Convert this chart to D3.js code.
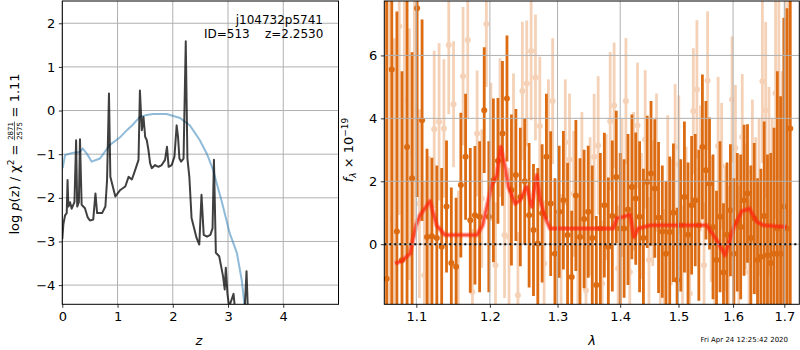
<!DOCTYPE html>
<html>
<head>
<meta charset="utf-8">
<script src="https://cdn.jsdelivr.net/npm/d3@7"></script>
<style>
body { margin: 0; background: #fff; }
text { font-family: "DejaVu Sans", sans-serif; }
</style>
</head>
<body>
<script>
// ---- left panel: p(z) ----
let zBlue = [0.007, 0.05, 0.18, 0.32, 0.37, 0.45, 0.53, 0.68, 0.86, 1.04, 1.17, 1.28, 1.40, 1.53, 1.64, 1.89, 2.13, 2.31, 2.49, 2.62, 2.73, 2.77, 2.89, 3.03, 3.16, 3.25, 3.31];
let pBlue = [-1.32, -1.02, -0.97, -0.95, -0.87, -1.0, -1.17, -1.1, -0.79, -0.62, -0.45, -0.32, -0.15, -0.10, -0.08, -0.08, -0.17, -0.34, -0.68, -1.0, -1.36, -1.55, -2.1, -2.81, -3.26, -3.9, -4.6];

let zDark = [0.0, 0.02, 0.05, 0.08, 0.095, 0.11, 0.14, 0.17, 0.22, 0.25, 0.27, 0.30, 0.32, 0.35, 0.41, 0.46, 0.50, 0.56, 0.60, 0.63, 0.72, 0.78, 0.81, 0.845, 0.87, 0.93, 0.96, 1.05, 1.14, 1.20, 1.26, 1.32, 1.38, 1.405, 1.44, 1.47, 1.50, 1.53, 1.56, 1.59, 1.62, 1.68, 1.74, 1.80, 1.86, 1.895, 1.925, 1.98, 2.03, 2.07, 2.095, 2.12, 2.15, 2.195, 2.235, 2.265, 2.30, 2.34, 2.43, 2.48, 2.52, 2.56, 2.62, 2.68, 2.72, 2.745, 2.78, 2.84, 2.88, 2.91, 2.94, 2.96, 2.99, 3.02, 3.10, 3.13, 3.30, 3.335, 3.36];
let pDark = [-2.95, -2.6, -2.4, -2.35, -1.59, -2.2, -2.1, -2.25, -2.1, -0.68, -2.2, -2.1, -0.66, -2.16, -2.24, -2.45, -2.52, -2.5, -1.9, -2.35, -2.35, -2.2, -1.6, 0.39, -1.52, -1.82, -1.97, -1.82, -1.74, -1.52, -1.58, -1.36, -1.13, 0.46, -0.45, -0.15, -0.6, -0.68, -0.91, -1.21, -1.32, -1.25, -1.29, -1.25, -1.13, -0.83, -1.29, -1.25, -1.06, -0.34, -0.6, -1.1, -1.17, -1.1, 1.59, -1.1, -1.52, -2.46, -2.92, -3.07, -1.93, -2.85, -2.89, -2.85, -2.7, -1.13, -3.26, -3.34, -3.6, -3.8, -4.1, -3.6, -4.2, -4.5, -4.2, -4.6, -4.6, -3.68, -4.6];

let zTicks = [0, 1, 2, 3, 4];
let pTicks = [-4, -3, -2, -1, 0, 1, 2];

// ---- right panel: spectrum ----
let darkWave = [1.062, 1.0685, 1.075, 1.0815, 1.088, 1.0945, 1.101, 1.1075, 1.114, 1.1205, 1.127, 1.1335, 1.140, 1.1465, 1.153, 1.1595, 1.166, 1.1725, 1.179, 1.1855, 1.192, 1.1985, 1.205, 1.2115, 1.218, 1.2245, 1.231, 1.2375, 1.244, 1.2505, 1.257, 1.2635, 1.270, 1.2765, 1.283, 1.2895, 1.296, 1.3025, 1.309, 1.3155, 1.322, 1.3285, 1.335, 1.3415, 1.348, 1.3545, 1.361, 1.3675, 1.374, 1.3805, 1.387, 1.3935, 1.400, 1.4065, 1.413, 1.4195, 1.426, 1.4325, 1.439, 1.4455, 1.452, 1.4585, 1.465, 1.4715, 1.478, 1.4845, 1.491, 1.4975, 1.504, 1.5105, 1.517, 1.5235, 1.530, 1.5365, 1.543, 1.5495, 1.556, 1.5625, 1.569, 1.5755, 1.582, 1.5885, 1.595, 1.6015, 1.608, 1.6145, 1.621, 1.6275, 1.634, 1.6405, 1.647, 1.6535, 1.660, 1.6665, 1.673, 1.6795, 1.686, 1.6925, 1.699, 1.7055, 1.712];
let darkFlux = [-1.1, 5.55, 0.4, -0.5, 3.09, 2.1, 7.5, 3.94, 0.23, 0.25,
  0.2, -0.08, 1.2, -0.6, -0.72, 1.88, 2.78, 0.76, 0.92, 0.87,
  4.26, 0.87, 2.03, 2.65, 3.52, 4.63, 1.72, 2.2, 1.5, 2.0,
  0.92, 0.45, 0.02, 0.98, 2.78, 1.29, -0.3, 1.03, 1.4, 0.29,
  -1.04, 1.55, 0.23, 0.8, 1.03, 0.2, -1.3, 0.5, 1.24, -0.08,
  0.9, 2.14, 0.5, 0.5, 1.1, 1.82, 1.45, 0.87, 0.2, 1.98,
  2.25, 1.77, 0.85, 0.4, -0.3, 0.39, 1.0, -1.14, 0.6, 1.5,
  0.3, 1.24, 1.4, 0.6, 3.09, 2.35, 1.93, 0.55, -0.5, 0.87,
  -0.9, 0.3, 1.08, -0.3, 0.7, 0.55, 1.4, 1.61, 0.2, 0.82,
  -0.5, -0.4, 0.9, -0.35, -0.6, -0.3, 0.5, -0.3, 1.2, 0.5,
  3.68];
let darkErr = [9, 9, 7, 6, 5, 4, 6, 3.2, 2.8, 2.5,
  2.3, 2.5, 2.1, 2.4, 2.2, 2.3, 2.0, 2.3, 2.2, 2.4,
  2.0, 2.4, 2.6, 2.0, 2.3, 2.0, 2.4, 2.1, 2.2, 2.0,
  2.3, 2.1, 2.4, 2.2, 2.0, 2.3, 2.4, 2.1, 2.2, 2.3,
  2.1, 2.4, 2.5, 2.2, 2.1, 2.3, 2.2, 2.4, 2.3, 2.2,
  2.4, 2.1, 2.4, 2.2, 2.4, 2.3, 2.1, 2.4, 2.2, 2.1,
  2.3, 2.2, 2.4, 2.1, 2.3, 2.4, 2.2, 2.3, 2.1, 2.4,
  2.3, 2.2, 2.1, 2.4, 2.3, 2.2, 2.1, 2.3, 2.2, 2.4,
  2.2, 2.3, 2.1, 2.4, 2.2, 2.3, 2.4, 2.2, 2.3, 2.4,
  2.6, 2.8, 3, 3.2, 3.5, 4, 5, 5, 6, 7,
  8];

let lightWave = [1.065, 1.0715, 1.078, 1.0845, 1.091, 1.0975, 1.104, 1.1105, 1.117, 1.1235, 1.130, 1.1365, 1.143, 1.1495, 1.156, 1.1625, 1.169, 1.1755, 1.182, 1.1885, 1.195, 1.2015, 1.208, 1.2145, 1.221, 1.2275, 1.234, 1.2405, 1.247, 1.2535, 1.260, 1.2665, 1.273, 1.2795, 1.286, 1.2925, 1.299, 1.3055, 1.312, 1.3185, 1.325, 1.3315, 1.338, 1.3445, 1.351, 1.3575, 1.364, 1.3705, 1.377, 1.3835, 1.390, 1.3965, 1.403, 1.4095, 1.416, 1.4225, 1.429, 1.4355, 1.442, 1.4485, 1.455, 1.4615, 1.468, 1.4745, 1.481, 1.4875, 1.494, 1.5005, 1.507, 1.5135, 1.520, 1.5265, 1.533, 1.5395, 1.546, 1.5525, 1.559, 1.5655, 1.572, 1.5785, 1.585, 1.5915, 1.598, 1.6045, 1.611, 1.6175, 1.624, 1.6305, 1.637, 1.6435, 1.650, 1.6565, 1.663, 1.6695, 1.676, 1.6825, 1.689, 1.6955, 1.702, 1.7085];
let lightFlux = [0.8, 0.55, 6.93, 4.58, 2.86, 4.24, 1.29, -0.99, 0.3, 3.65,
  3.89, 3.68, 6.33, 4.45, -0.3, 5.34, 6.49, -1.52, 3.52, 1.45,
  7.0, 2.93, -0.67, 3.71, 0.29, 0.23, 3.43, -1.62, 4.87, 5.11,
  6.14, 5.3, 3.76, -0.61, 3.04, 4.55, -0.93, -0.61, 3.24, 2.69,
  1.6, -0.67, 2.2, -1.46, 1.2, 2.78, 3.14, -1.25, 1.5, 3.91,
  4.41, -0.77, 1.8, 4.55, -0.88, 2.0, 3.77, 0.9, 3.33, -0.5,
  1.3, 2.59, -1.25, -0.88, 1.9, 0.7, 3.09, 2.53, -0.77, 1.1,
  -1.57, 4.23, 4.92, 2.41, -0.67, 5.2, 0.8, -1.41, 3.12, 2.49,
  0.5, -0.35, 4.6, 3.06, -0.35, 3.41, 1.2, -0.88, 2.3, 0.9,
  1.5, 5.18, 4.26, 2.0, 0.5, 4.8, 3.0, -0.5, 2.5, 1.0];
let lightErr = [8, 6, 6, 5, 4, 4, 3, 3, 2.5, 2.5,
  2.5, 2.2, 2.2, 2, 2, 2.2, 2.5, 2, 2, 2.2,
  2, 2.2, 2, 2.2, 2, 2.2, 2, 2, 2.2, 2,
  2.2, 2, 2.2, 2, 2.2, 2, 2, 2.2, 2, 2.1,
  2, 2.2, 2, 2, 2.2, 2, 2.2, 2, 2, 2.2,
  2, 2, 2.2, 2, 2, 2.2, 2, 2, 2.2, 2,
  2, 2.2, 2, 2, 2.2, 2, 2, 2.2, 2, 2,
  2.2, 2, 2.2, 2, 2, 2.2, 2, 2, 2.2, 2,
  2, 2.2, 2, 2, 2.2, 2, 2, 2.3, 2.3, 2.5,
  2.5, 2.6, 2.8, 3, 3.5, 4, 5, 6, 7, 8];

let modelWave = [1.0726, 1.0812, 1.0918, 1.0996, 1.1048, 1.1180, 1.1268, 1.1380, 1.1814, 1.1898, 1.2026, 1.2098, 1.2155, 1.2218, 1.2266, 1.2363, 1.2436, 1.2495, 1.2535, 1.2609, 1.2684, 1.2734, 1.2808, 1.2884, 1.3887, 1.3943, 1.4053, 1.4164, 1.4231, 1.4303, 1.4504, 1.5509, 1.5694, 1.5850, 1.6006, 1.6166, 1.6313, 1.6457, 1.6586, 1.7048];
let modelFlux = [-0.61, -0.54, -0.30, 0.60, 0.92, 1.37, 0.60, 0.29, 0.29, 0.60, 1.88, 2.19, 3.09, 2.46, 1.82, 1.29, 1.40, 1.66, 1.82, 1.19, 2.19, 1.40, 0.87, 0.50, 0.50, 0.82, 0.87, 0.94, 0.23, 0.50, 0.60, 0.60, 0.13, -0.35, 0.50, 1.05, 1.13, 0.71, 0.60, 0.55];

let waveTicks = [1.1, 1.2, 1.3, 1.4, 1.5, 1.6, 1.7];
let fluxTicks = [0, 2, 4, 6];

let svg = d3.select("body").append("svg")
    .attr("width", 800)
    .attr("height", 350);

let gridColor = '#b0b0b0';
let orange = '#dc6b12';

// ---------- left panel ----------
let xz = d3.scaleLinear().domain([0, 5]).range([62.3, 338.5]);
let yp = d3.scaleLinear().domain([-4.44, 2.51]).range([304.3, 1]);

svg.append("clipPath").attr("id", "clipL")
    .append("rect").attr("x", 62.3).attr("y", 1).attr("width", 276.2).attr("height", 303.3);
svg.append("clipPath").attr("id", "clipR")
    .append("rect").attr("x", 384.3).attr("y", 1).attr("width", 415).attr("height", 303.3);

let left = svg.append("g");
// grid
left.selectAll(".gx").data(zTicks).enter().append("line")
    .attr("x1", d => xz(d)).attr("x2", d => xz(d))
    .attr("y1", 1).attr("y2", 304.3)
    .attr("stroke", gridColor).attr("stroke-width", 1);
left.selectAll(".gy").data(pTicks).enter().append("line")
    .attr("x1", 62.3).attr("x2", 338.5)
    .attr("y1", d => yp(d)).attr("y2", d => yp(d))
    .attr("stroke", gridColor).attr("stroke-width", 1);

let lineL = d3.line().x(d => xz(d[0])).y(d => yp(d[1]));
let curves = left.append("g").attr("clip-path", "url(#clipL)");
curves.append("path").datum(d3.zip(zBlue, pBlue))
    .attr("d", lineL).attr("fill", "none")
    .attr("stroke", "#1f77b4").attr("stroke-opacity", 0.5).attr("stroke-width", 2);
curves.append("path").datum(d3.zip(zDark, pDark))
    .attr("d", lineL).attr("fill", "none")
    .attr("stroke", "#000").attr("stroke-opacity", 0.75).attr("stroke-width", 2)
    .attr("stroke-linejoin", "round");

left.append("g").attr("transform", "translate(0,304.3)")
    .call(d3.axisBottom(xz).tickValues(zTicks).tickFormat(d3.format("d")).tickSize(3.5).tickPadding(3.5));
left.append("g").attr("transform", "translate(62.3,0)")
    .call(d3.axisLeft(yp).tickValues(pTicks).tickFormat(d => d < 0 ? "\u2212" + Math.abs(d) : d).tickSize(3.5).tickPadding(3.5));
left.append("rect").attr("x", 62.3).attr("y", 1).attr("width", 276.2).attr("height", 303.3)
    .attr("fill", "none").attr("stroke", "#000").attr("stroke-width", 1);

left.append("text").attr("x", 323).attr("y", 24).attr("text-anchor", "end")
    .style("font-size", "12px").text("j104732p5741");
left.append("text").attr("x", 323.3).attr("y", 38).attr("text-anchor", "end")
    .style("font-size", "12px").style("white-space", "pre").attr("xml:space", "preserve")
    .text("ID=513    z=2.2530");

left.append("text").attr("x", 199).attr("y", 345).attr("text-anchor", "middle")
    .style("font-size", "13px").style("font-style", "italic").text("z");

// rich text label built piece by piece along a baseline
function richLabel(g, parts) {
    let x = 0;
    parts.forEach(p => {
        if (p.num) {
            let n = g.append("text").attr("x", x + 0.5).attr("y", -5.2).style("font-size", "7px").text(p.num);
            let d = g.append("text").attr("x", x + 0.5).attr("y", 3.2).style("font-size", "7px").text(p.den);
            let w = Math.max(n.node().getComputedTextLength(), d.node().getComputedTextLength()) + 1;
            g.append("line").attr("x1", x).attr("x2", x + w).attr("y1", -4).attr("y2", -4)
                .attr("stroke", "#000").attr("stroke-width", 0.6);
            x += w;
        } else {
            let t = g.append("text").attr("x", x).attr("y", p.dy || 0)
                .style("font-size", (p.size || 13) + "px")
                .style("font-style", p.it ? "italic" : "normal")
                .style("white-space", "pre").attr("xml:space", "preserve")
                .text(p.t);
            x += t.node().getComputedTextLength();
        }
    });
    g.selectAll("*").attr("transform", "translate(" + (-x / 2) + ",0)");
}

let yl = svg.append("g").attr("transform", "translate(18.5,154) rotate(-90)");
richLabel(yl, [
    {t: "log "}, {t: "p", it: true}, {t: "(z) / \u03c7"}, {t: "2", size: 9, dy: -5},
    {t: " = "}, {num: "2871", den: "2575"}, {t: " = 1.11"}
]);

// ---------- right panel ----------
let xw = d3.scaleLog().domain([1.0591, 1.7304]).range([384.3, 799.3]);
let yf = d3.scaleLinear().domain([-1.91, 7.73]).range([304.3, 1]);

let right = svg.append("g");
let marks = right.append("g").attr("clip-path", "url(#clipR)");

function errSeries(g, wave, flux, err, op) {
    let pts = d3.zip(wave, flux, err);
    let s = g.append("g").attr("opacity", op);
    s.selectAll("line").data(pts).enter().append("line")
        .attr("x1", d => xw(d[0])).attr("x2", d => xw(d[0]))
        .attr("y1", d => yf(d[1] - d[2])).attr("y2", d => yf(d[1] + d[2]))
        .attr("stroke", orange).attr("stroke-width", 2.8);
    s.selectAll("circle").data(pts).enter().append("circle")
        .attr("cx", d => xw(d[0])).attr("cy", d => yf(d[1]))
        .attr("r", 3).attr("fill", orange);
}
errSeries(marks, lightWave, lightFlux, lightErr, 0.3);
errSeries(marks, darkWave, darkFlux, darkErr, 1);

right.selectAll(".gx").data(waveTicks).enter().append("line")
    .attr("x1", d => xw(d)).attr("x2", d => xw(d))
    .attr("y1", 1).attr("y2", 304.3)
    .attr("stroke", gridColor).attr("stroke-width", 1);
right.selectAll(".gy").data(fluxTicks).enter().append("line")
    .attr("x1", 384.3).attr("x2", 799.3)
    .attr("y1", d => yf(d)).attr("y2", d => yf(d))
    .attr("stroke", gridColor).attr("stroke-width", 1);

right.append("line").attr("x1", 384.3).attr("x2", 799.3)
    .attr("y1", yf(0)).attr("y2", yf(0))
    .attr("stroke", "#000").attr("stroke-width", 2).attr("stroke-dasharray", "2,3");

let lineR = d3.line().x(d => xw(d[0])).y(d => yf(d[1]));
marks.append("path").datum(d3.zip(modelWave, modelFlux))
    .attr("d", lineR).attr("fill", "none")
    .attr("stroke", "#ff1a0a").attr("stroke-opacity", 0.35).attr("stroke-width", 5)
    .attr("stroke-linejoin", "round");
marks.append("path").datum(d3.zip(modelWave, modelFlux))
    .attr("d", lineR).attr("fill", "none")
    .attr("stroke", "#ff2a10").attr("stroke-opacity", 0.7).attr("stroke-width", 2.5)
    .attr("stroke-linejoin", "round");

right.append("g").attr("transform", "translate(0,304.3)")
    .call(d3.axisBottom(xw).tickValues(waveTicks).tickFormat(d3.format(".1f")).tickSize(3.5).tickPadding(3.5));
right.append("g").attr("transform", "translate(384.3,0)")
    .call(d3.axisLeft(yf).tickValues(fluxTicks).tickFormat(d3.format("d")).tickSize(3.5).tickPadding(3.5));
right.append("rect").attr("x", 384.3).attr("y", 1).attr("width", 415).attr("height", 303.3)
    .attr("fill", "none").attr("stroke", "#000").attr("stroke-width", 1);

right.append("text").attr("x", 592).attr("y", 345).attr("text-anchor", "middle")
    .style("font-size", "13px").style("font-style", "italic").text("\u03bb");

let yr = svg.append("g").attr("transform", "translate(353,150) rotate(-90)");
richLabel(yr, [
    {t: "f", it: true}, {t: "\u03bb", size: 9, dy: 3, it: true}, {t: " \u00d7 10"}, {t: "\u221219", size: 9, dy: -5}
]);

svg.append("text").attr("x", 788).attr("y", 341.5).attr("text-anchor", "end")
    .style("font-size", "7px").text("Fri Apr 24 12:25:42 2020");

svg.selectAll(".tick text").style("font-size", "13px").style("font-family", "DejaVu Sans").attr("fill", "#000");
svg.selectAll(".tick line").attr("stroke", "#000").attr("stroke-width", 0.8);
svg.selectAll(".domain").remove();
</script>
</body>
</html>
